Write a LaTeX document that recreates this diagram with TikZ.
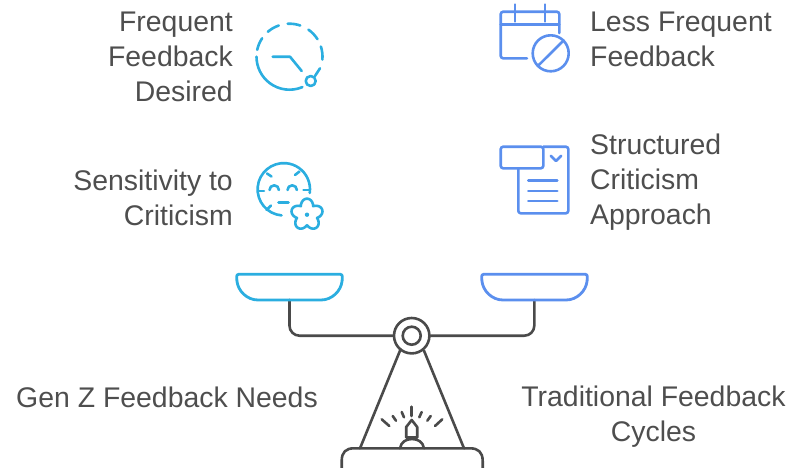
\documentclass[tikz,border=0pt]{standalone}
\usepackage{fontspec}
\usetikzlibrary{calc}
\setmainfont{Liberation Sans}
\definecolor{cy}{HTML}{2BAEE0}
\definecolor{bl}{HTML}{5B8FEE}
\definecolor{gr}{HTML}{4A4A4A}
\definecolor{tx}{HTML}{4E4E4E}
\tikzset{
 lab/.style={text=tx,font=\fontsize{28.4}{35}\selectfont,inner sep=0pt},
 cyl/.style={draw=cy,line width=2.6pt,line cap=round,line join=round},
 bll/.style={draw=bl,line width=2.6pt,line cap=round,line join=round},
 grl/.style={draw=gr,line width=2.6pt,line cap=round,line join=round},
}
\begin{document}
\begin{tikzpicture}[x=1pt,y=-1pt]
\useasboundingbox (0,0) rectangle (804,467);
% labels
\node[lab,align=right,anchor=east] (t1) at (233,57) {Frequent\\Feedback\\Desired};
\node[lab,align=right,anchor=east] (t2) at (233,197.5) {Sensitivity to\\Criticism};
\node[lab,align=left,anchor=west] (t3) at (590,39.5) {Less Frequent\\Feedback};
\node[lab,align=left,anchor=west] (t4) at (590,182) {Structured\\Criticism\\Approach};
\node[lab] (t5) at (167,397) {Gen Z Feedback Needs};
\node[lab,align=center] (t6) at (653.5,416.5) {Traditional Feedback\\Cycles};
% icon 1
\coordinate (c1) at (289.5,56.7);
\foreach \a/\b in {67/180,192/214,229/251,267/289,305/328,342/365}
  \draw[cyl] ($(c1)+(\a:33)$) arc[start angle=\a,end angle=\b,radius=33];
\draw[cyl] (320,68.3) -- (315,76);
\draw[cyl] (310.7,81) circle[radius=5];
\draw[cyl] (272.7,56.7) -- (290,56.7) -- (301.7,71);
% icon 2
\draw[bll,rounded corners=2.5pt] (559.3,33) -- (559.3,11.7) -- (500.7,11.7) -- (500.7,58.3) -- (527,58.3);
\draw[bll] (500.7,24.3) -- (559.3,24.3);
\draw[bll] (515,4.5) -- (515,21.5);
\draw[bll] (545,4.5) -- (545,21.5);
\draw[bll] (550.7,53.3) circle[radius=18];
\draw[bll] (537.8,66) -- (563.6,40.5);
% icon 3
\coordinate (c3) at (283.8,189.3);
\draw[cyl] ($(c3)+(95:26.2)$) arc[start angle=95,end angle=368,radius=26.2];
\draw[cyl] (267,173.5) -- (271.5,176.5);
\draw[cyl] (295,175) -- (299.5,171.5);
\draw[cyl] (258,191) -- (264,191);
\draw[cyl] (303.5,190) -- (309,190);
\draw[cyl] (266.5,210) -- (271,205.5);
\draw[cyl] (269.5,190) arc[start angle=180,end angle=360,radius=4.7];
\draw[cyl] (287.5,190) arc[start angle=180,end angle=360,radius=4.7];
\draw[cyl] (278.5,202.7) -- (288.5,202.7);
\coordinate (fl) at (307,214.7);
\draw[cyl,shift={(fl)}] plot[domain=0:360,samples=121,smooth] (\x:{10.5+5.5*abs(cos(2.5*(\x+90)))}) -- cycle;
\fill[cy] (fl) circle[radius=2.2];
% icon 4
\draw[bll,rounded corners=2.5pt] (543.3,146.7) -- (543.3,168.3) -- (500.7,168.3) -- (500.7,146.7) -- cycle;
\draw[bll,rounded corners=2.5pt] (543.3,146.7) -- (568.3,146.7) -- (568.3,213.3) -- (518.3,213.3) -- (518.3,168.3);
\draw[bll] (550.7,155.7) -- (556,161) -- (561.3,155.7);
\draw[bll] (528.3,180.7) -- (557.3,180.7);
\draw[bll] (528.3,191) -- (557.3,191);
\draw[bll] (528.3,201) -- (557.3,201);
% scale
\node[circle,draw=gr,line width=2.6pt,minimum size=35.4pt,inner sep=0pt] (hub) at (411.7,335.7) {};
\node[circle,draw=gr,line width=2.6pt,minimum size=18pt,inner sep=0pt] (hubin) at (411.7,335.7) {};
\coordinate (pl) at (289.5,300);
\coordinate (pr) at (534.3,300);
\draw[grl,rounded corners=10pt] (pl) |- (hub.west);
\draw[grl,rounded corners=10pt] (pr) |- (hub.east);
\draw[grl] (400,350.7) -- (360,448.3);
\draw[grl] (424,350.7) -- (464,448.3);
\draw[grl] (341.7,470) -- (341.7,461) .. controls (341.7,452) and (346,448.3) .. (354,448.3) -- (470,448.3) .. controls (478,448.3) and (482.7,452) .. (482.7,461) -- (482.7,470);
\draw[grl] (400,448.3) .. controls (401,442) and (406,439) .. (412,439) .. controls (418,439) and (423,442) .. (424,448.3);
\draw[grl] (406.2,437.5) -- (406.2,427) -- (411.7,420) -- (417.2,427) -- (417.2,437.5) -- cycle;
\draw[grl] (411.7,406.7) -- (411.7,416);
\draw[grl] (401.7,412) -- (404,417.3);
\draw[grl] (392.7,416) -- (396,420.7);
\draw[grl] (381.7,419.3) -- (389.3,426);
\draw[grl] (421.7,412) -- (419.3,417.3);
\draw[grl] (430.7,416) -- (427.3,420.7);
\draw[grl] (442.3,419.3) -- (435,426);
% pans
\draw[cyl,line width=2.8pt,rounded corners=2pt] (236.7,274.3) -- (342.3,274.3) -- (342.3,279) .. controls (341,291) and (332,300) .. (319,300) -- (260,300) .. controls (247,300) and (238,291) .. (236.7,279) -- cycle;
\draw[bll,line width=2.8pt,rounded corners=2pt] (481.7,274.3) -- (587.3,274.3) -- (587.3,279) .. controls (586,291) and (577,300) .. (564,300) -- (505,300) .. controls (492,300) and (483,291) .. (481.7,279) -- cycle;
\end{tikzpicture}
\end{document}
